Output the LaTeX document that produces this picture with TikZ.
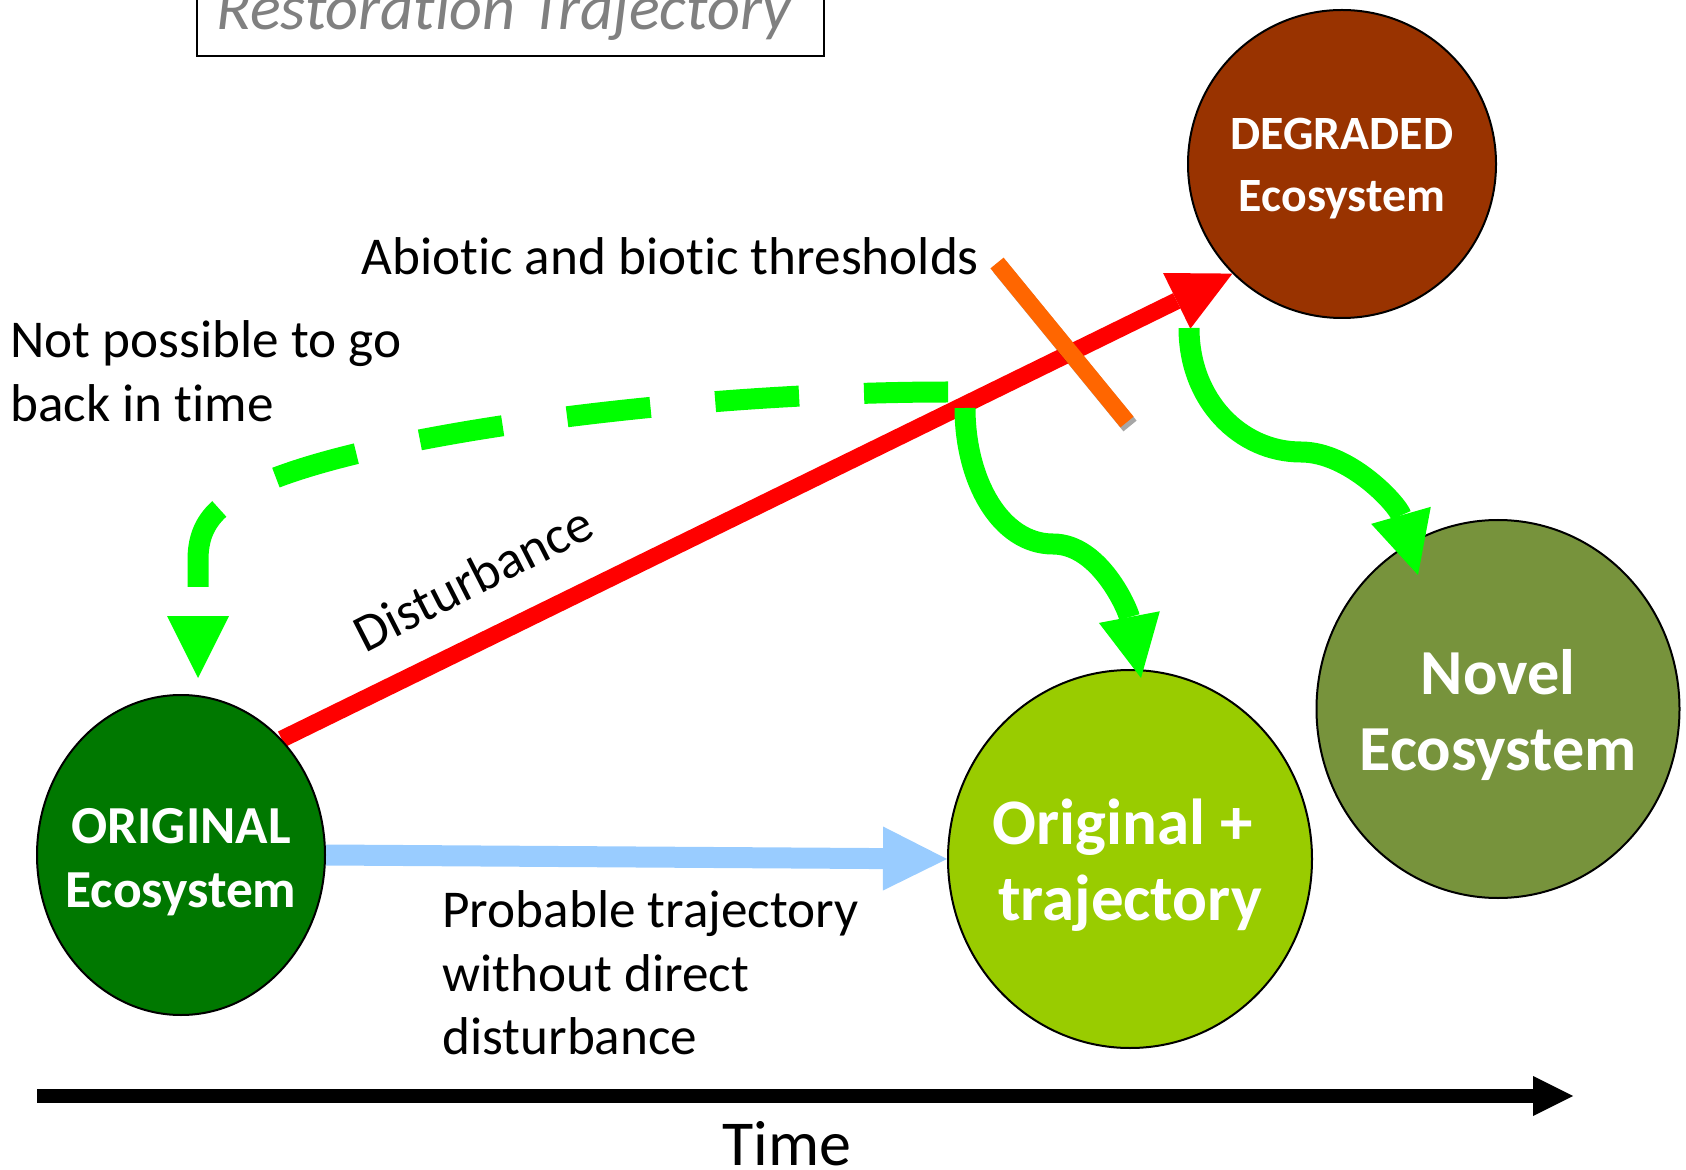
\documentclass[tikz,border=0pt]{standalone}
\usepackage{fontspec}
\setmainfont{Carlito}[Ligatures={NoCommon}]
\usetikzlibrary{arrows.meta,shapes.geometric,backgrounds}

\definecolor{origgreen}{HTML}{007800}
\definecolor{degbrown}{HTML}{993300}
\definecolor{plusgreen}{HTML}{99CC00}
\definecolor{novelolive}{HTML}{77933C}
\definecolor{brightgreen}{HTML}{00FF00}
\definecolor{skyblue}{HTML}{99CCFF}
\definecolor{barorange}{HTML}{FF6600}
\definecolor{titlegray}{HTML}{808080}

\begin{document}
\begin{tikzpicture}[x=0.5pt,y=-0.5pt,
  eco/.style={draw=black, line width=1pt, ellipse, inner sep=0pt},
  ecotext/.style={text=white, font=\bfseries, align=center, inner sep=0pt},
  plain/.style={font=\fontsize{26.6}{31.75}\selectfont, align=left, inner sep=0pt},
  headtip/.style={-{Triangle[length=#1,width=#1,line width'=0pt]}},
  greenflow/.style={draw=brightgreen, line width=10.5pt, headtip=31pt},
]
\useasboundingbox (0,0) rectangle (1686,1170);

% ecosystem states
\node[eco, fill=origgreen, minimum width=144pt, minimum height=160pt] (orig) at (181,855) {};
\node[eco, fill=degbrown, minimum width=154pt, minimum height=154pt] (degr) at (1342,164) {};
\node[eco, fill=plusgreen, minimum width=182pt, minimum height=189pt] (oplus) at (1130,859) {};
\node[eco, fill=novelolive, minimum width=181.5pt, minimum height=189pt] (novel) at (1498,709) {};

\node[ecotext, font=\fontsize{26.75}{32}\selectfont\bfseries] (origtxt) at (181,862) {ORIGINAL\\Ecosystem};
\node[ecotext, font=\fontsize{23.9}{31}\selectfont\bfseries] (degrtxt) at (1342,169) {DEGRADED\\Ecosystem};
\node[ecotext, font=\fontsize{32.5}{38}\selectfont\bfseries] (oplustxt) at (1130,865) {Original +\kern0.23em\\trajectory};
\node[ecotext, font=\fontsize{32.1}{38}\selectfont\bfseries] (noveltxt) at (1498,715) {Novel\\Ecosystem};

% trajectories leaving the original state, kept under its outline
\begin{scope}[on background layer]
  \draw[red, line width=8.5pt, headtip=31pt] (orig.49) -- (degr.225);
  \draw[skyblue, line width=10.5pt, headtip=32pt] (orig.east) -- (oplus.west);
\end{scope}

% threshold bar with its shadow
\coordinate (barA) at (997,263);
\coordinate (barB) at (1127,422);
\draw[black, opacity=0.35, line width=8.5pt] ([shift={(3,4)}]barA) -- ([shift={(3,4)}]barB);
\draw[barorange, line width=8.5pt] (barA) -- (barB);

% restoration paths
\coordinate (split0) at (948,392);
\coordinate (split1) at (965,408);
\coordinate (backtip) at (198,678);
\coordinate (plustip) at (1141,678);
\coordinate (degsplit) at (1189,328);
\coordinate (noveltip) at (1418,575);

\draw[greenflow, dash pattern=on 42pt off 32.5pt]
  (split0) .. controls (700,392) and (400,430) .. (275,478)
  .. controls (220,500) and (198,520) .. (198,560) -- (backtip);
\draw[greenflow] (split1) .. controls (965,480) and (1000,544) .. (1053,544)
  .. controls (1100,544) and (1128,610) .. (plustip);
\draw[greenflow] (degsplit) .. controls (1189,400) and (1240,452) .. (1301,452)
  .. controls (1350,452) and (1398,505) .. (noveltip);

% time axis
\coordinate (tstart) at (37,1096);
\coordinate (tend) at (1573,1096);
\draw[black, line width=7pt, headtip=20pt] (tstart) -- (tend);
\node[font=\fontsize{32}{36}\selectfont, anchor=base, inner sep=0pt] (timelbl) at (787,1165) {Time};

% labels
\node[plain, anchor=west] (threshlbl) at (361,256) {Abiotic and biotic thresholds};
\node[plain, anchor=west] (backlbl) at (10,371) {Not possible to go\\back in time};
\node[plain, anchor=west] (problbl) at (442,973) {Probable trajectory\\without direct\\disturbance};
\node[plain, rotate=27] (distlbl) at (473,578) {Disturbance};

% title box
\draw[line width=1pt] (197,-20) rectangle (824,56);
\node[font=\fontsize{32.1}{36}\selectfont\itshape, text=titlegray, anchor=base west, inner sep=0pt] (title) at (216,30) {Restoration Trajectory};
\end{tikzpicture}
\end{document}
